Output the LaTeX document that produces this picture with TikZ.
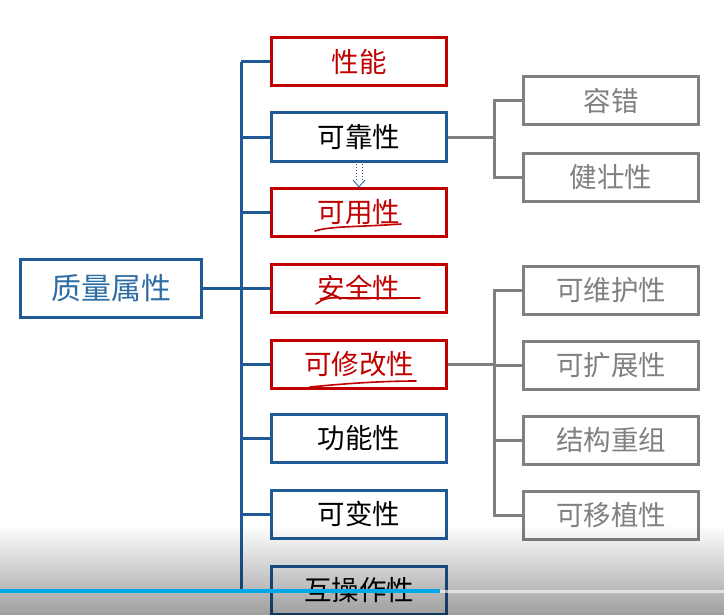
\documentclass[tikz,border=0pt]{standalone}
\usepackage{fontspec}
\setmainfont{Noto Sans CJK SC}
\usetikzlibrary{fadings,arrows.meta}
\definecolor{qblue}{HTML}{1F5A96}
\definecolor{qred}{HTML}{C00000}
\definecolor{qgray}{HTML}{808080}
\definecolor{qroottext}{HTML}{2E6DA4}
\definecolor{qbar}{HTML}{00A8E8}
\begin{document}
\begin{tikzpicture}[x=1pt,y=-1pt,
  box/.style={draw, line width=3pt, minimum width=175pt, minimum height=48pt, inner sep=0pt, font=\fontsize{27.5}{27.5}\selectfont},
  bluebox/.style={box, draw=qblue, text=black},
  redbox/.style={box, draw=qred, text=qred},
  graybox/.style={box, draw=qgray, text=qgray},
  rootbox/.style={box, draw=qblue, text=qroottext, minimum width=181pt, minimum height=58pt, font=\fontsize{30}{30}\selectfont},
  bline/.style={draw=qblue, line width=3pt},
  gline/.style={draw=qgray, line width=3pt},
  hand/.style={draw=qred, line width=1.6pt, line cap=round, line join=round}
]
\useasboundingbox (0,0) rectangle (725,615);
\fill[white] (0,0) rectangle (725,615);

\node[rootbox] (root) at (111,288) {质量属性};

\node[redbox]  (m1) at (359,62)  {性能};
\node[bluebox] (m2) at (359,137) {可靠性};
\node[redbox]  (m3) at (359,212) {可用性};
\node[redbox]  (m4) at (359,288) {安全性};
\node[redbox]  (m5) at (359,364) {可修改性};
\node[bluebox] (m6) at (359,438) {功能性};
\node[bluebox] (m7) at (359,514) {可变性};
\node[bluebox] (m8) at (359,590) {互操作性};

\node[graybox] (r1) at (611,101) {容错};
\node[graybox] (r2) at (611,177) {健壮性};
\node[graybox] (r3) at (611,290) {可维护性};
\node[graybox] (r4) at (611,365) {可扩展性};
\node[graybox] (r5) at (611,440) {结构重组};
\node[graybox] (r6) at (611,515) {可移植性};

% spine
\coordinate (spT) at (241,62);
\coordinate (spB) at (241,590);
\draw[bline] (spT) -- (spB);
\draw[bline] (root.east) -- (root.east -| spT);
\foreach \m in {m1,m2,m3,m4,m5,m6,m7,m8}{
  \draw[bline] (\m.west) -- (\m.west -| spT);
}

% gray trees
\coordinate (g1) at (494,137);
\coordinate (g2) at (494,364);
\draw[gline] (m2.east) -- (m2.east -| g1);
\draw[gline] (r1.west) -- (r1.west -| g1) -- (r2.west -| g1) -- (r2.west);
\draw[gline] (m5.east) -- (m5.east -| g2);
\draw[gline] (r3.west) -- (r3.west -| g2) -- (r6.west -| g2) -- (r6.west);
\draw[gline] (r4.west) -- (r4.west -| g2);
\draw[gline] (r5.west) -- (r5.west -| g2);

% dotted arrow annotation
\draw[qblue, dotted, line width=1pt] (356,164) -- (356,181);
\draw[qblue, dotted, line width=1pt] (362,164) -- (362,181);
\draw[qblue, line width=0.8pt] (353,180) -- (359,187) -- (365,180);

% handwritten underlines
\draw[hand] (315,231) .. controls (330,226) and (360,227) .. (401,224);
\draw[hand] (316,304) .. controls (322,299) and (330,297) .. (340,298) -- (420,298);
\draw[hand] (310,387) .. controls (340,384) and (380,381) .. (416,381);

% video overlay
\fill[black, opacity=0.38, path fading=north] (0,525) rectangle (725,615);
\draw[draw=white, opacity=0.6, line width=3pt] (440,591) -- (725,591);
\draw[draw=qbar, line width=4.5pt] (0,591) -- (440,591);
\end{tikzpicture}
\end{document}
